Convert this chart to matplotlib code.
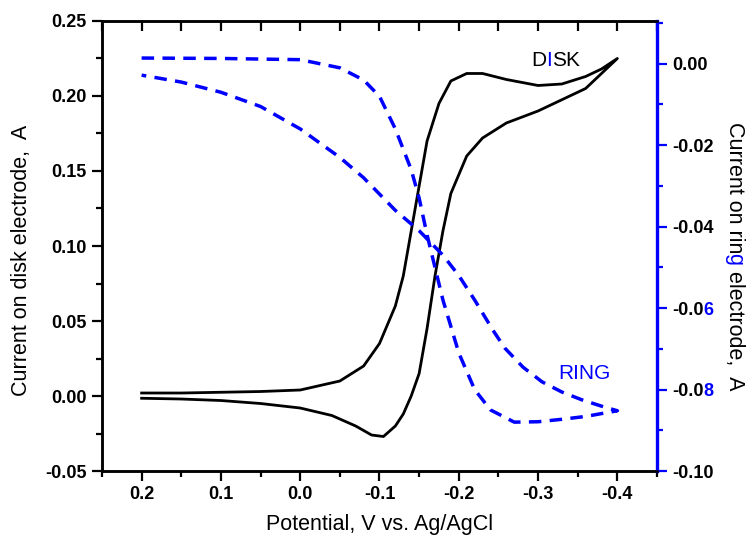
import numpy as np
import matplotlib.pyplot as plt
from matplotlib.ticker import MultipleLocator
from matplotlib.transforms import IdentityTransform

plt.rcParams['font.family'] = ['Liberation Sans', 'DejaVu Sans']

# disk current, cathodic scan 0.2 -> -0.4 V
disk_fwd_v = [0.2, 0.15, 0.1, 0.05, 0.0, -0.05, -0.08, -0.1, -0.12, -0.13, -0.14, -0.15,
              -0.16, -0.175, -0.19, -0.21, -0.23, -0.26, -0.3, -0.33, -0.36, -0.38, -0.4]
disk_fwd_i = [0.002, 0.002, 0.0025, 0.003, 0.004, 0.01, 0.02, 0.035, 0.06, 0.08, 0.11, 0.14,
              0.17, 0.195, 0.21, 0.215, 0.215, 0.211, 0.207, 0.208, 0.213, 0.218, 0.225]
# disk current, anodic scan -0.4 -> 0.2 V
disk_rev_v = [-0.4, -0.36, -0.3, -0.26, -0.23, -0.21, -0.19, -0.18, -0.17, -0.16, -0.15,
              -0.14, -0.13, -0.12, -0.105, -0.09, -0.07, -0.04, 0.0, 0.05, 0.1, 0.15, 0.2]
disk_rev_i = [0.225, 0.205, 0.19, 0.182, 0.172, 0.16, 0.135, 0.11, 0.08, 0.045, 0.015,
              0.0, -0.012, -0.02, -0.027, -0.026, -0.02, -0.013, -0.008, -0.005, -0.003, -0.002, -0.0015]

# ring current, cathodic scan
ring_fwd_v = [0.2, 0.1, 0.0, -0.05, -0.08, -0.1, -0.12, -0.14, -0.15, -0.16, -0.17, -0.18,
              -0.2, -0.22, -0.24, -0.27, -0.3, -0.33, -0.36, -0.4]
ring_fwd_i = [0.0014, 0.0013, 0.001, -0.001, -0.004, -0.008, -0.016, -0.026, -0.033, -0.042,
              -0.05, -0.058, -0.071, -0.08, -0.085, -0.088, -0.0879, -0.0873, -0.0866, -0.0852]
# ring current, anodic scan
ring_rev_v = [-0.4, -0.382, -0.355, -0.33, -0.305, -0.281, -0.258, -0.243, -0.22, -0.2, -0.18,
              -0.15, -0.12, -0.1, -0.08, -0.05, 0.0, 0.05, 0.1, 0.15, 0.2]
ring_rev_i = [-0.0852, -0.0842, -0.0825, -0.0806, -0.0781, -0.0745, -0.0698, -0.0654, -0.058,
              -0.052, -0.047, -0.041, -0.036, -0.032, -0.028, -0.023, -0.016, -0.0105, -0.007,
              -0.0045, -0.0028]

fig = plt.figure(figsize=(7.46, 5.38), dpi=100)
ax = fig.add_axes([0.1367, 0.1245, 0.744, 0.8365])
ax2 = ax.twinx()

ax.plot(disk_fwd_v + disk_rev_v, disk_fwd_i + disk_rev_i, color='black', lw=2.0)
ax2.plot(ring_fwd_v + ring_rev_v, ring_fwd_i + ring_rev_i, color='blue', lw=2.5,
         linestyle=(0, (3.6, 2.4)))

ax.set_xlim(0.25, -0.45)
ax.set_ylim(-0.05, 0.25)
ax2.set_ylim(-0.10, 0.0105)

ax.xaxis.set_minor_locator(MultipleLocator(0.05))
ax.yaxis.set_minor_locator(MultipleLocator(0.025))
ax2.yaxis.set_minor_locator(MultipleLocator(0.01))

ax.set_xticks([0.2, 0.1, 0.0, -0.1, -0.2, -0.3, -0.4])
ax.set_xticklabels(['0.2', '0.1', '0.0', '-0.1', '-0.2', '-0.3', '-0.4'])
ax.set_yticks([-0.05, 0.0, 0.05, 0.1, 0.15, 0.2, 0.25])
ax.set_yticklabels(['-0.05', '0.00', '0.05', '0.10', '0.15', '0.20', '0.25'])
ax2.set_yticks([-0.10, -0.08, -0.06, -0.04, -0.02, 0.0])
ax2.set_yticklabels(['-0.10', '-0.0', '-0.0', '-0.04', '-0.02', '0.00'])

for a in (ax, ax2):
    for s in a.spines.values():
        s.set_linewidth(1.8)
ax2.spines['right'].set_color('blue')
ax2.spines['right'].set_linewidth(2.4)

ax.tick_params(axis='both', which='major', direction='out', length=7, width=1.6,
               labelsize=13, pad=4)
ax.tick_params(axis='both', which='minor', direction='out', length=4.5, width=1.6)
ax.tick_params(axis='x', which='both', top=True, labeltop=False)
ax2.tick_params(axis='y', which='major', direction='out', length=7, width=1.6,
                color='blue', labelsize=13, pad=4)
ax2.tick_params(axis='y', which='minor', direction='out', length=4.5, width=1.6, color='blue')
for lab in ax.get_xticklabels() + ax.get_yticklabels() + ax2.get_yticklabels():
    lab.set_fontweight('bold')

# top ticks point inwards, all the same length
for t in ax.xaxis.get_major_ticks() + ax.xaxis.get_minor_ticks():
    t.tick2line.set_marker(3)
    t.tick2line.set_markersize(7)

ax.set_xlabel('Potential, V vs. Ag/AgCl', fontsize=15.5, labelpad=8)

H = 538
fig.text(27, H - 260, 'Current on disk electrode,  A', fontsize=15.5, rotation=90,
         rotation_mode='anchor', ha='center', va='baseline', transform=IdentityTransform())

fig.canvas.draw()
r = fig.canvas.get_renderer()


def chain(parts, x, y, rot=0, size=15.5):
    for s, c in parts:
        t = fig.text(x, y, s, color=c, fontsize=size, rotation=rot, rotation_mode='anchor',
                     ha='left', va='baseline', transform=IdentityTransform())
        bb = t.get_window_extent(r)
        if rot == 0:
            x += bb.width
        else:
            y -= bb.height


# blue last digit on two ring tick labels
for lab in ax2.get_yticklabels():
    if lab.get_text() == '-0.0':
        bb = lab.get_window_extent(r)
        val = lab.get_position()[1]
        digit = '6' if abs(val + 0.06) < 1e-6 else '8'
        fig.text(bb.x1, bb.y0 + 0.5 * bb.height, digit, color='blue', fontsize=13,
                 fontweight='bold', ha='left', va='center', transform=IdentityTransform())

chain([('D', 'black'), ('I', 'blue'), ('SK', 'black')], 531, H - 66, size=15)
chain([('RING', 'blue')], 558, H - 379, size=15)
chain([('Current on rin', 'black'), ('g', 'blue'), (' electrode,  A', 'black')],
      729, H - 122, rot=-90)

fig.savefig('out.png', dpi=100)
